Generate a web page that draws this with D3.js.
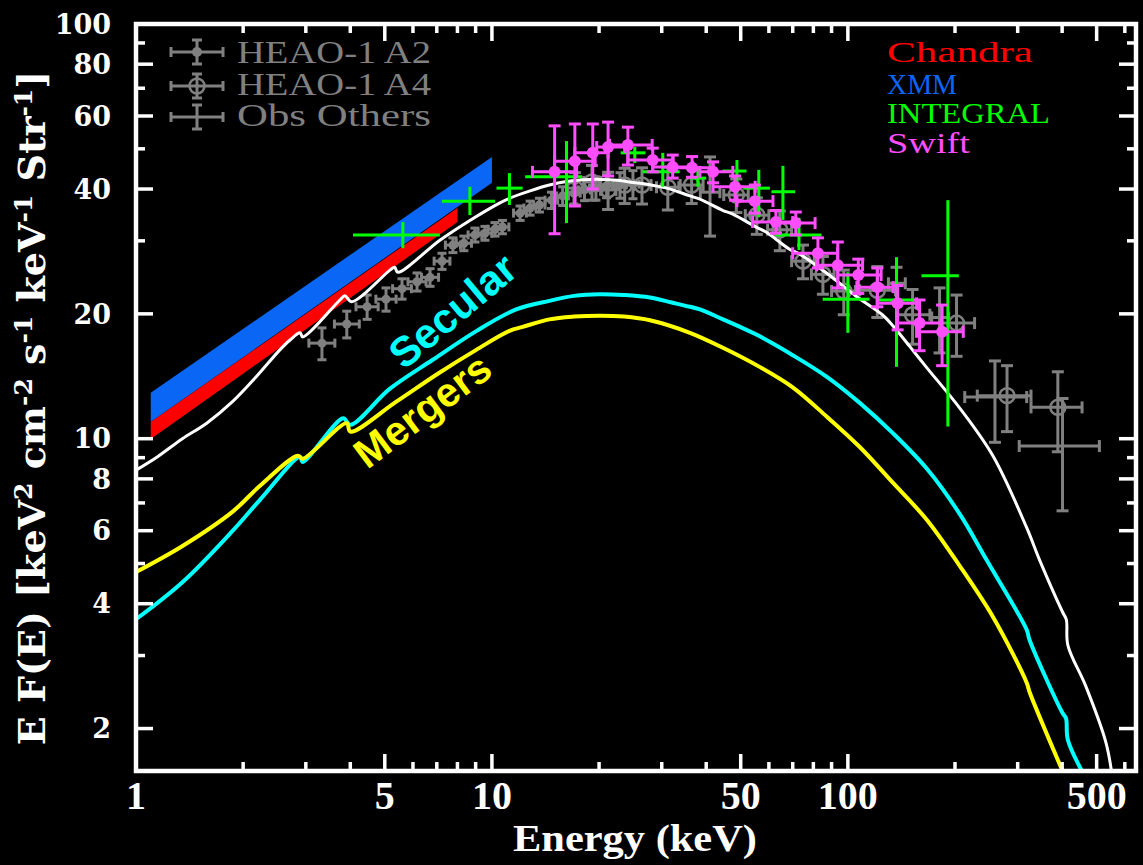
<!DOCTYPE html>
<html><head><meta charset="utf-8">
<script src="https://cdn.jsdelivr.net/npm/d3@7"></script>
<style>html,body{margin:0;padding:0;background:#000;} svg{display:block;}</style>
</head><body>
<svg id="chart" width="1143" height="865"></svg>
<script>
// ---------- axis values ----------
const xDomain = [1, 645];
const yDomain = [1.58, 100];
const xMajorTicks = [1, 5, 10, 50, 100, 500];
const xMinorTicks = [2, 3, 4, 6, 7, 8, 9, 20, 30, 40, 60, 70, 80, 90, 200, 300, 400, 600];
const yMajorTicks = [2, 4, 6, 8, 10, 20, 40, 60, 80, 100];
const yMinorTicks = [3, 5, 7, 9, 30, 50, 70, 90];
const xTickLabels = ["1", "5", "10", "50", "100", "500"];
const yTickLabels = ["2", "4", "6", "8", "10", "20", "40", "60", "80", "100"];

// ---------- bands (Chandra, XMM) ----------
const chandraE = [1.1, 8.0];
const chandraLo = [9.98, 33.3];
const chandraHi = [10.97, 36.0];
const xmmE = [1.1, 10.0];
const xmmLo = [10.97, 41.4];
const xmmHi = [12.9, 47.8];

// ---------- model curves ----------
const totalE = [1.0, 1.15, 1.35, 1.58, 1.87, 2.16, 2.54, 2.71, 2.89, 2.94, 3.74, 3.86, 4.04, 5.17, 5.33, 5.44, 7.14, 8.67, 10.5, 11.2, 12.8, 14.5, 16.2, 18.0, 20.1, 22.5, 24.9, 28.0, 31.0, 36.0, 38.4, 44.6, 47.5, 55.5, 58.9, 68.7, 73.1, 86, 106, 125, 134, 150, 167, 207, 256, 318, 346, 401, 411, 415, 467, 531, 552];
const totalF = [8.4, 9.05, 10.0, 10.9, 12.3, 14.0, 16.4, 17.3, 18.0, 17.6, 21.6, 22.1, 21.4, 25.5, 25.9, 25.2, 30.1, 33.6, 37.0, 38.0, 39.6, 40.9, 41.7, 42.1, 42.2, 42.0, 41.5, 40.9, 40.2, 38.5, 37.8, 35.5, 34.8, 32.3, 31.5, 28.6, 27.9, 25.3, 22.0, 19.9, 18.7, 16.6, 14.8, 11.8, 9.07, 6.1, 5.09, 3.82, 3.66, 3.18, 2.52, 1.85, 1.55];

const secularE = [1.0, 1.355, 1.873, 2.23, 2.89, 2.94, 3.82, 4.0, 5.17, 6.82, 9.06, 11.7, 14.5, 17.0, 20.1, 23.5, 27.8, 32.0, 36.0, 38.4, 44.6, 49.8, 55.5, 70, 87.3, 108, 134, 167, 207, 245, 318, 324, 401, 410, 415, 460];
const secularF = [3.67, 4.52, 6.01, 7.12, 9.04, 8.79, 11.2, 10.8, 13.2, 15.5, 18.2, 20.5, 21.5, 22.1, 22.3, 22.2, 21.9, 21.3, 20.8, 20.5, 19.4, 18.6, 17.8, 15.9, 14.1, 12.2, 10.3, 8.45, 6.55, 5.11, 3.46, 3.27, 2.18, 2.12, 1.88, 1.55];

const mergersE = [1.0, 1.355, 1.873, 2.23, 2.85, 2.94, 3.91, 4.0, 5.4, 7.1, 9.06, 11.2, 12.2, 14.5, 17.0, 20.1, 23.5, 27.8, 36.0, 45.0, 56.5, 70, 87.3, 108, 134, 167, 205, 256, 318, 324, 405];
const mergersF = [4.77, 5.52, 6.68, 7.7, 9.1, 8.95, 10.9, 10.4, 12.3, 14.4, 16.4, 18.2, 18.6, 19.4, 19.7, 19.8, 19.7, 19.3, 18.0, 16.5, 14.9, 13.3, 11.3, 9.55, 7.82, 6.36, 4.97, 3.71, 2.58, 2.45, 1.55];

// ---------- HEAO-1 A2 ----------
const a2E   = [3.33, 3.91, 4.46, 5.04, 5.59, 6.16, 6.70, 7.24, 7.77, 8.34, 8.96, 9.56, 10.2, 10.7, 12.0, 12.8, 13.6, 14.7, 15.8, 17.0, 18.2, 19.6, 21.0, 22.9, 24.9];
const a2Elo = [3.06, 3.61, 4.15, 4.72, 5.26, 5.81, 6.34, 6.88, 7.40, 7.94, 8.57, 9.14, 9.75, 10.26, 11.5, 12.3, 13.1, 14.1, 15.2, 16.3, 17.5, 18.8, 20.2, 22.0, 23.9];
const a2Ehi = [3.62, 4.24, 4.79, 5.38, 5.94, 6.53, 7.08, 7.62, 8.16, 8.76, 9.37, 10.0, 10.67, 11.16, 12.5, 13.3, 14.1, 15.3, 16.4, 17.7, 18.9, 20.4, 21.8, 23.8, 25.9];
const a2F   = [17.0, 18.9, 20.8, 21.7, 23.0, 23.9, 24.5, 26.8, 29.3, 29.6, 31.0, 31.3, 32.0, 32.4, 35.0, 36.0, 36.6, 37.6, 38.5, 39.1, 39.8, 40.2, 40.7, 40.9, 41.1];
const a2Ferr= [1.5, 1.4, 1.4, 1.4, 1.3, 1.2, 1.2, 1.2, 1.2, 1.2, 1.2, 1.2, 1.2, 1.2, 1.4, 1.4, 1.4, 1.7, 2.0, 2.3, 2.3, 2.6, 2.6, 2.9, 3.2];

// ---------- HEAO-1 A4 ----------
const a4E   = [17.1, 19.1, 21.2, 23.6, 26.4, 31.2, 36.4, 48.6, 55.5, 64.4, 74.8, 85.1, 97.4, 121, 152, 202, 280, 389];
const a4Elo = [16.2, 18.1, 20.2, 22.4, 25.0, 29.0, 33.8, 44.8, 51.5, 59.5, 69.5, 79, 90, 108, 137, 181, 231, 327];
const a4Ehi = [18.1, 20.2, 22.3, 25.0, 28.0, 33.5, 39.2, 52.5, 60, 69.5, 80.5, 91.5, 105, 136, 170, 227, 327, 455];
const a4F   = [40.2, 41.6, 39.8, 40.9, 40.9, 40.4, 40.9, 38.7, 34.6, 31.9, 26.8, 24.9, 22.7, 22.8, 19.9, 19.0, 12.7, 11.9];
const a4Ferr= [3.6, 4.0, 4.1, 4.0, 4.1, 4.8, 4.0, 3.6, 3.5, 3.5, 2.5, 2.6, 2.8, 3.2, 3.0, 3.2, 2.3, 2.6];

// ---------- Obs Others ----------
const othE   = [41.0, 137, 181, 259, 401];
const othElo = [38.5, 130, 172, 213, 303];
const othEhi = [43.7, 145, 192, 318, 509];
const othF   = [39.3, 23.7, 19.6, 12.6, 9.6];
const othFerr= [8.5, 2.2, 3.5, 2.8, 2.9];

// ---------- Swift ----------
const swiftE   = [15.0, 17.1, 19.2, 21.2, 24.1, 28.3, 32.2, 36.5, 41.8, 48.2, 54.8, 62.8, 71.4, 82.4, 93.7, 107, 121, 138, 159, 184];
const swiftElo = [13.0, 15.0, 17.1, 19.7, 21.4, 24.1, 28.3, 32.2, 38.4, 41.8, 48.8, 54.0, 63.0, 70.0, 81.7, 93.7, 106, 121, 137, 156];
const swiftEhi = [17.3, 19.5, 21.2, 23.6, 28.2, 32.3, 36.6, 41.8, 47.5, 54.9, 61.6, 70.0, 80.9, 93.6, 110, 124, 134, 156, 183, 211];
const swiftF   = [44.0, 46.7, 48.9, 50.5, 51.1, 47.0, 45.2, 45.0, 44.0, 40.5, 37.4, 33.3, 33.1, 28.0, 26.2, 24.8, 23.2, 21.2, 19.0, 18.1];
const swiftFlo = [31.2, 36.4, 40.0, 43.0, 45.7, 44.0, 42.5, 42.7, 41.4, 37.6, 35.0, 31.3, 31.0, 25.8, 23.1, 22.4, 20.8, 18.3, 16.3, 15.0];
const swiftFhi = [56.8, 57.4, 57.4, 58.0, 56.4, 50.2, 48.3, 47.9, 46.5, 43.0, 40.9, 35.5, 35.2, 30.5, 29.8, 27.1, 25.8, 23.4, 21.6, 21.0];

// ---------- INTEGRAL ----------
const integralE   = [5.62, 8.67, 11.2, 16.2, 25.2, 30.2, 37.9, 48.8, 56.2, 65.7, 72.9, 100, 137, 191];
const integralElo = [4.07, 7.24, 10.3, 12.4, 23.0, 26.5, 36.0, 44.4, 50.8, 61.0, 62.6, 85.0, 120, 161];
const integralEhi = [7.14, 10.2, 12.2, 17.9, 27.0, 33.7, 40.0, 51.9, 60.4, 71.1, 84.3, 115, 155, 205];
const integralF   = [31.0, 37.4, 40.2, 42.8, 48.9, 44.0, 42.5, 44.2, 40.2, 39.4, 31.0, 21.7, 21.6, 24.7];
const integralFlo = [28.8, 34.6, 36.6, 33.1, 46.2, 40.5, 40.5, 39.1, 34.2, 33.7, 28.5, 18.0, 14.9, 10.7];
const integralFhi = [33.3, 40.5, 43.7, 52.2, 50.5, 48.9, 45.0, 47.0, 44.5, 45.5, 34.1, 25.2, 27.4, 37.6];

// ---------- legends ----------
const legendLeft = ["HEAO-1 A2", "HEAO-1 A4", "Obs Others"];
const legendRight = ["Chandra", "XMM", "INTEGRAL", "Swift"];
const legendRightColors = ["#ff0000", "#0a66f5", "#00ff00", "#ff4dff"];
const curveLabels = ["Secular", "Mergers"];

// ================= drawing =================
const svg = d3.select('#chart');
const Lp = 136, Rp = 1136, Tp = 24, Bp = 771;
svg.append('rect').attr('width', 1143).attr('height', 865).attr('fill', '#000');

const x = d3.scaleLog().domain(xDomain).range([Lp, Rp]);
const y = d3.scaleLog().domain(yDomain).range([Bp, Tp]);

svg.append('clipPath').attr('id', 'clip').append('rect')
  .attr('x', Lp).attr('y', Tp).attr('width', Rp - Lp).attr('height', Bp - Tp);
const plot = svg.append('g').attr('clip-path', 'url(#clip)');

// bands
function band(E, lo, hi, color) {
  const rows = E.map((e, i) => ({e, lo: lo[i], hi: hi[i]}));
  plot.append('path').datum(rows)
    .attr('d', d3.area().x(d => x(d.e)).y0(d => y(d.lo)).y1(d => y(d.hi)))
    .attr('fill', color);
}
band(xmmE, xmmLo, xmmHi, '#0a66f5');
band(chandraE, chandraLo, chandraHi, '#ff0000');

// error bars
function errBars(rows, color, cap, lw) {
  const g = plot.append('g').attr('stroke', color).attr('stroke-width', lw).attr('fill', 'none');
  rows.forEach(d => {
    const cx = x(d.e), cy = y(d.f);
    g.append('line').attr('x1', x(d.elo)).attr('x2', x(d.ehi)).attr('y1', cy).attr('y2', cy);
    g.append('line').attr('x1', cx).attr('x2', cx).attr('y1', y(d.flo)).attr('y2', y(d.fhi));
    if (cap > 0) {
      [d.elo, d.ehi].forEach(v => g.append('line').attr('x1', x(v)).attr('x2', x(v)).attr('y1', cy - cap).attr('y2', cy + cap));
      [d.flo, d.fhi].forEach(v => g.append('line').attr('x1', cx - cap).attr('x2', cx + cap).attr('y1', y(v)).attr('y2', y(v)));
    }
  });
  return g;
}
const rowsSym = (E, Elo, Ehi, F, Ferr) => E.map((e, i) => ({e, elo: Elo[i], ehi: Ehi[i], f: F[i], flo: F[i] - Ferr[i], fhi: F[i] + Ferr[i]}));
const rowsAsym = (E, Elo, Ehi, F, Flo, Fhi) => E.map((e, i) => ({e, elo: Elo[i], ehi: Ehi[i], f: F[i], flo: Flo[i], fhi: Fhi[i]}));

const GRAY = '#808080';
const a2Rows = rowsSym(a2E, a2Elo, a2Ehi, a2F, a2Ferr);
const a4Rows = rowsSym(a4E, a4Elo, a4Ehi, a4F, a4Ferr);
const othRows = rowsSym(othE, othElo, othEhi, othF, othFerr);
errBars(othRows, GRAY, 6, 3);
errBars(a4Rows, GRAY, 6, 3);
plot.append('g').selectAll('circle').data(a4Rows).join('circle')
  .attr('cx', d => x(d.e)).attr('cy', d => y(d.f)).attr('r', 7.5)
  .attr('fill', 'none').attr('stroke', GRAY).attr('stroke-width', 2.5);
errBars(a2Rows, GRAY, 4.5, 3);
plot.append('g').selectAll('circle').data(a2Rows).join('circle')
  .attr('cx', d => x(d.e)).attr('cy', d => y(d.f)).attr('r', 4.5).attr('fill', GRAY);

// curves
const line = d3.line().x(d => x(d[0])).y(d => y(d[1])).curve(d3.curveCatmullRom.alpha(0.5));
function curve(E, F, color, w) {
  plot.append('path').datum(E.map((e, i) => [e, F[i]]))
    .attr('d', line).attr('fill', 'none').attr('stroke', color).attr('stroke-width', w)
    .attr('stroke-linejoin', 'round');
}
curve(totalE, totalF, '#ffffff', 3);
curve(secularE, secularF, '#00ffff', 4);
curve(mergersE, mergersF, '#ffff00', 4);

// INTEGRAL (no caps, no markers)
errBars(rowsAsym(integralE, integralElo, integralEhi, integralF, integralFlo, integralFhi), '#00ff00', 0, 3);
// Swift
const swiftRows = rowsAsym(swiftE, swiftElo, swiftEhi, swiftF, swiftFlo, swiftFhi);
errBars(swiftRows, '#ff4dff', 6, 3);
plot.append('g').selectAll('circle').data(swiftRows).join('circle')
  .attr('cx', d => x(d.e)).attr('cy', d => y(d.f)).attr('r', 6).attr('fill', '#ff4dff');

// curve labels
const labelPos = [[462, 322, -40, '#00ffff', 42], [431, 422, -37, '#ffff00', 41]];
curveLabels.forEach((t, i) => {
  const p = labelPos[i];
  svg.append('text').text(t)
    .attr('transform', `translate(${p[0]},${p[1]}) rotate(${p[2]})`)
    .attr('text-anchor', 'middle')
    .attr('font-family', 'Liberation Sans, Arial, sans-serif').attr('font-weight', 'bold')
    .attr('font-size', p[4]).attr('fill', p[3]);
});

// frame & ticks
const axisG = svg.append('g').attr('stroke', '#fff').attr('stroke-width', 3.5);
const majLen = 17, minLen = 9;
function xt(vals, len) {
  vals.forEach(v => {
    const px = x(v);
    axisG.append('line').attr('x1', px).attr('x2', px).attr('y1', Bp).attr('y2', Bp - len);
    axisG.append('line').attr('x1', px).attr('x2', px).attr('y1', Tp).attr('y2', Tp + len);
  });
}
function yt(vals, len) {
  vals.forEach(v => {
    const py = y(v);
    axisG.append('line').attr('x1', Lp).attr('x2', Lp + len).attr('y1', py).attr('y2', py);
    axisG.append('line').attr('x1', Rp).attr('x2', Rp - len).attr('y1', py).attr('y2', py);
  });
}
xt(xMajorTicks, majLen); xt(xMinorTicks, minLen);
yt(yMajorTicks, majLen); yt(yMinorTicks, minLen);
svg.append('rect').attr('x', Lp).attr('y', Tp).attr('width', Rp - Lp).attr('height', Bp - Tp)
  .attr('fill', 'none').attr('stroke', '#fff').attr('stroke-width', 4.5);

// tick labels
svg.append('g').selectAll('text').data(xMajorTicks).join('text')
  .attr('x', d => x(d)).attr('y', 809).attr('text-anchor', 'middle')
  .attr('font-family', 'Liberation Serif, serif').attr('font-weight', 'bold').attr('font-size', 40)
  .attr('fill', '#fff').text((d, i) => xTickLabels[i]);
svg.append('g').selectAll('text').data(yMajorTicks).join('text')
  .attr('x', 111).attr('y', d => y(d)).attr('dy', '0.36em').attr('text-anchor', 'end')
  .attr('font-family', 'DejaVu Serif, serif').attr('font-weight', 'bold').attr('font-size', 27)
  .attr('fill', '#fff').text((d, i) => yTickLabels[i]);

// axis titles
svg.append('text').attr('x', 635).attr('y', 851).attr('text-anchor', 'middle')
  .attr('font-family', 'Liberation Serif, serif').attr('font-weight', 'bold').attr('font-size', 38)
  .attr('textLength', 244).attr('lengthAdjust', 'spacingAndGlyphs')
  .attr('fill', '#fff').text('Energy (keV)');

const yt0 = svg.append('text').attr('transform', 'translate(45,408) rotate(-90)')
  .attr('text-anchor', 'middle')
  .attr('font-family', 'DejaVu Serif, serif').attr('font-weight', 'bold').attr('font-size', 38)
  .attr('fill', '#fff');
const parts = [['E F(E) [keV', 0], ['2', 1], [' cm', 0], ['-2', 1], [' s', 0], ['-1', 1], [' keV', 0], ['-1', 1], [' Str', 0], ['-1', 1], [']', 0]];
let sup = false;
parts.forEach(p => {
  const ts = yt0.append('tspan').text(p[0]);
  if (p[1] && !sup) { ts.attr('dy', -13).attr('font-size', 25); sup = true; }
  else if (!p[1] && sup) { ts.attr('dy', 13); sup = false; }
  else if (p[1]) ts.attr('font-size', 25);
});

// left legend
const legY = [52, 86, 117];
const legBase = [63, 95, 126];
const lg = svg.append('g');
legendLeft.forEach((t, i) => {
  const cy = legY[i], cx = 197;
  const g = lg.append('g').attr('stroke', GRAY).attr('stroke-width', 3).attr('fill', 'none');
  g.append('line').attr('x1', 171).attr('x2', 223).attr('y1', cy).attr('y2', cy);
  g.append('line').attr('x1', cx).attr('x2', cx).attr('y1', cy - 12).attr('y2', cy + 12);
  g.append('line').attr('x1', 171).attr('x2', 171).attr('y1', cy - 5).attr('y2', cy + 5);
  g.append('line').attr('x1', 223).attr('x2', 223).attr('y1', cy - 5).attr('y2', cy + 5);
  g.append('line').attr('x1', cx - 5).attr('x2', cx + 5).attr('y1', cy - 12).attr('y2', cy - 12);
  g.append('line').attr('x1', cx - 5).attr('x2', cx + 5).attr('y1', cy + 12).attr('y2', cy + 12);
  if (i === 0) lg.append('circle').attr('cx', cx).attr('cy', cy).attr('r', 5).attr('fill', GRAY);
  if (i === 1) lg.append('circle').attr('cx', cx).attr('cy', cy).attr('r', 7.5).attr('fill', 'none').attr('stroke', GRAY).attr('stroke-width', 2.5);
  lg.append('text').attr('x', 237).attr('y', legBase[i]).text(t)
    .attr('font-family', 'Liberation Serif, serif').attr('font-size', 31)
    .attr('textLength', 194).attr('lengthAdjust', 'spacingAndGlyphs').attr('fill', GRAY);
});

// right legend
const rBase = [62, 94, 123, 153];
const rLen = [146, 70, 163, 83];
legendRight.forEach((t, i) => {
  svg.append('text').attr('x', 887).attr('y', rBase[i]).text(t)
    .attr('font-family', 'Liberation Serif, serif').attr('font-size', 30)
    .attr('textLength', rLen[i]).attr('lengthAdjust', 'spacingAndGlyphs')
    .attr('fill', legendRightColors[i]);
});
</script>
</body></html>
